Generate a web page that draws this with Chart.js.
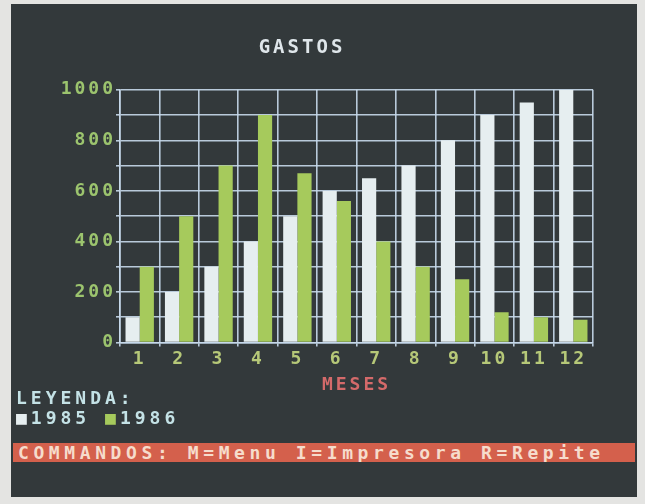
<!DOCTYPE html>
<html>
<head>
<meta charset="utf-8">
<script src="https://cdn.jsdelivr.net/npm/chart.js@4/dist/chart.umd.min.js"></script>
<style>
    body {
        margin: 0;
        width: 645px;
        height: 504px;
        background: #e4e4e2;
        overflow: hidden;
    }
    #screen {
        position: absolute;
        left: 11px;
        top: 4px;
        width: 626px;
        height: 493px;
        background: #33393b;
    }
    #chart {
        position: absolute;
        left: 0;
        top: 0;
    }
    #legend {
        position: absolute;
        left: 5px;
        top: 384px;
        font-family: "DejaVu Sans Mono", monospace;
        font-weight: bold;
        font-size: 18px;
        line-height: 20px;
        letter-spacing: 4px;
        color: #c4e2e6;
    }
    #commands {
        position: absolute;
        left: 2px;
        top: 439px;
        width: 617px;
        height: 19px;
        padding-left: 5px;
        background: #d4604c;
        font-family: "DejaVu Sans Mono", monospace;
        font-weight: bold;
        font-size: 18px;
        line-height: 19px;
        letter-spacing: 4.6px;
        color: #f6dccc;
        white-space: nowrap;
        overflow: hidden;
    }
</style>
</head>
<body>
<div id="screen">
    <canvas id="chart" width="626" height="396"></canvas>
    <div id="legend"></div>
    <div id="commands">COMMANDOS: M=Menu I=Impresora R=Repite</div>
</div>
<script>
const months = ["1", "2", "3", "4", "5", "6", "7", "8", "9", "10", "11", "12"];
const gastos1985 = [100, 200, 300, 400, 500, 600, 650, 700, 800, 900, 950, 1000];
const gastos1986 = [300, 500, 700, 900, 670, 560, 400, 300, 250, 120, 100, 90];
const seriesLabels = ["1985", "1986"];
const seriesColors = ["#e6eef0", "#a6ca5c"];
const yTickLabels = [0, 200, 400, 600, 800, 1000];

const monoFont = "'DejaVu Sans Mono', monospace";

// old screen font is wide, so space the canvas letters out
const wideText = {
    id: "wideText",
    beforeUpdate(chart) {
        chart.ctx.letterSpacing = "3px";
    },
    beforeDraw(chart) {
        chart.ctx.letterSpacing = "3px";
    }
};

const legend = document.getElementById("legend");
let legendLine = "";
seriesLabels.forEach((label, i) => {
    legendLine += `<span style="color:${seriesColors[i]}">■</span>${label} `;
});
legend.innerHTML = "LEYENDA:<br>" + legendLine;

new Chart(document.getElementById("chart"), {
    type: "bar",
    data: {
        labels: months,
        datasets: [{
            label: seriesLabels[0],
            data: gastos1985,
            backgroundColor: seriesColors[0],
            barPercentage: 1,
            categoryPercentage: 0.72
        }, {
            label: seriesLabels[1],
            data: gastos1986,
            backgroundColor: seriesColors[1],
            barPercentage: 1,
            categoryPercentage: 0.72
        }]
    },
    options: {
        responsive: false,
        animation: false,
        layout: {
            padding: { left: 0, right: 44, top: 0, bottom: 0 }
        },
        plugins: {
            legend: { display: false },
            tooltip: { enabled: false },
            title: {
                display: true,
                text: "GASTOS",
                color: "#dfe6ea",
                font: { family: monoFont, size: 19, weight: "bold" },
                padding: { top: 33, bottom: 30 }
            }
        },
        scales: {
            x: {
                afterFit(scale) {
                    scale.height = 57.5;
                },
                grid: {
                    offset: true,
                    color: "rgba(200, 218, 236, 0.9)",
                    lineWidth: 1.6,
                    tickLength: 4
                },
                border: { color: "rgba(200, 218, 236, 0.95)", width: 1.6 },
                ticks: {
                    color: "#b6c878",
                    padding: 2,
                    font: { family: monoFont, size: 18, weight: "bold" }
                },
                title: {
                    display: true,
                    text: "MESES",
                    color: "#d46a6a",
                    font: { family: monoFont, size: 18, weight: "bold" },
                    padding: { top: 0, bottom: 4 }
                }
            },
            y: {
                min: 0,
                max: 1000,
                afterFit(scale) {
                    scale.width = 109;
                },
                grid: {
                    color: "rgba(200, 218, 236, 0.9)",
                    lineWidth: 1.6,
                    tickLength: 4
                },
                border: { color: "rgba(200, 218, 236, 0.95)", width: 1.6 },
                ticks: {
                    stepSize: 100,
                    color: "#9cc46e",
                    padding: 0,
                    font: { family: monoFont, size: 18, weight: "bold" },
                    callback: value => yTickLabels.includes(value) ? value : ""
                }
            }
        }
    },
    plugins: [wideText]
});
</script>
</body>
</html>
